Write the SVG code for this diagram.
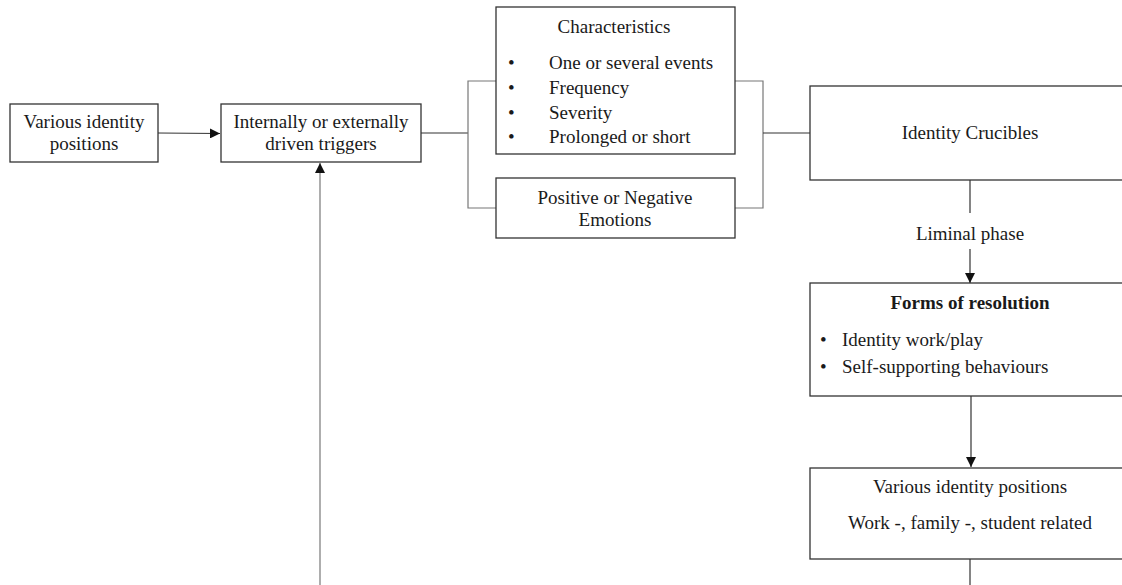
<svg xmlns="http://www.w3.org/2000/svg" width="1122" height="585" viewBox="0 0 1122 585">
<style>
.box{fill:#fff;stroke:#333;stroke-width:1.3}
.t{font-family:"Liberation Serif","Times New Roman",serif;font-size:19px;fill:#1a1a1a}
.c{text-anchor:middle}
.b{font-weight:bold}
.ln{fill:none;stroke:#333;stroke-width:1.2}
.br{fill:none;stroke:#777;stroke-width:1.2}
</style>
<defs>
<marker id="ah" markerWidth="10" markerHeight="10" refX="10" refY="5" orient="auto" markerUnits="userSpaceOnUse">
<path d="M0,0 L10,5 L0,10 Z" fill="#111"/>
</marker>
</defs>
<rect width="1122" height="585" fill="#fff"/>
<g id="connectors">
<line class="ln" x1="158" y1="133" x2="220" y2="133.5" marker-end="url(#ah)"/>
<line class="ln" x1="421" y1="133" x2="468" y2="133"/>
<path class="br" d="M496,81 H468 V208 H496"/>
<path class="br" d="M735,81 H763 V208 H735"/>
<line class="ln" x1="763" y1="133" x2="810" y2="133"/>
<line class="ln" x1="970" y1="180" x2="970" y2="213"/>
<line class="ln" x1="970" y1="249" x2="970" y2="283" marker-end="url(#ah)"/>
<line class="ln" x1="971" y1="396" x2="971" y2="467" marker-end="url(#ah)"/>
<line class="ln" x1="970" y1="559" x2="970" y2="585"/>
<line class="br" x1="320" y1="585" x2="320" y2="163" marker-end="url(#ah)"/>
</g>
<g id="n-various1">
<rect class="box" x="10" y="104" width="148" height="58"/>
<text class="t c" x="84" y="128">Various identity</text>
<text class="t c" x="84" y="150">positions</text>
</g>
<g id="n-triggers">
<rect class="box" x="221" y="104" width="200" height="58"/>
<text class="t c" x="321" y="128">Internally or externally</text>
<text class="t c" x="321" y="150">driven triggers</text>
</g>
<g id="n-characteristics">
<rect class="box" x="496" y="7" width="239" height="147"/>
<text class="t c" x="614" y="33">Characteristics</text>
<text class="t" x="508" y="69">•</text>
<text class="t" x="549" y="69">One or several events</text>
<text class="t" x="508" y="94">•</text>
<text class="t" x="549" y="94">Frequency</text>
<text class="t" x="508" y="119">•</text>
<text class="t" x="549" y="119">Severity</text>
<text class="t" x="508" y="143">•</text>
<text class="t" x="549" y="143">Prolonged or short</text>
</g>
<g id="n-emotions">
<rect class="box" x="496" y="178" width="239" height="60"/>
<text class="t c" x="615" y="204">Positive or Negative</text>
<text class="t c" x="615" y="226">Emotions</text>
</g>
<g id="n-crucibles">
<rect class="box" x="810" y="86" width="320" height="94"/>
<text class="t c" x="970" y="139">Identity Crucibles</text>
</g>
<g id="n-liminal">
<text class="t c" x="970" y="240">Liminal phase</text>
</g>
<g id="n-resolution">
<rect class="box" x="810" y="283" width="320" height="113"/>
<text class="t c b" x="970" y="309">Forms of resolution</text>
<text class="t" x="820" y="346">•</text>
<text class="t" x="842" y="346">Identity work/play</text>
<text class="t" x="820" y="373">•</text>
<text class="t" x="842" y="373">Self-supporting behaviours</text>
</g>
<g id="n-various2">
<rect class="box" x="810" y="468" width="320" height="91"/>
<text class="t c" x="970" y="493">Various identity positions</text>
<text class="t c" x="970" y="529">Work -, family -, student related</text>
</g>
</svg>
